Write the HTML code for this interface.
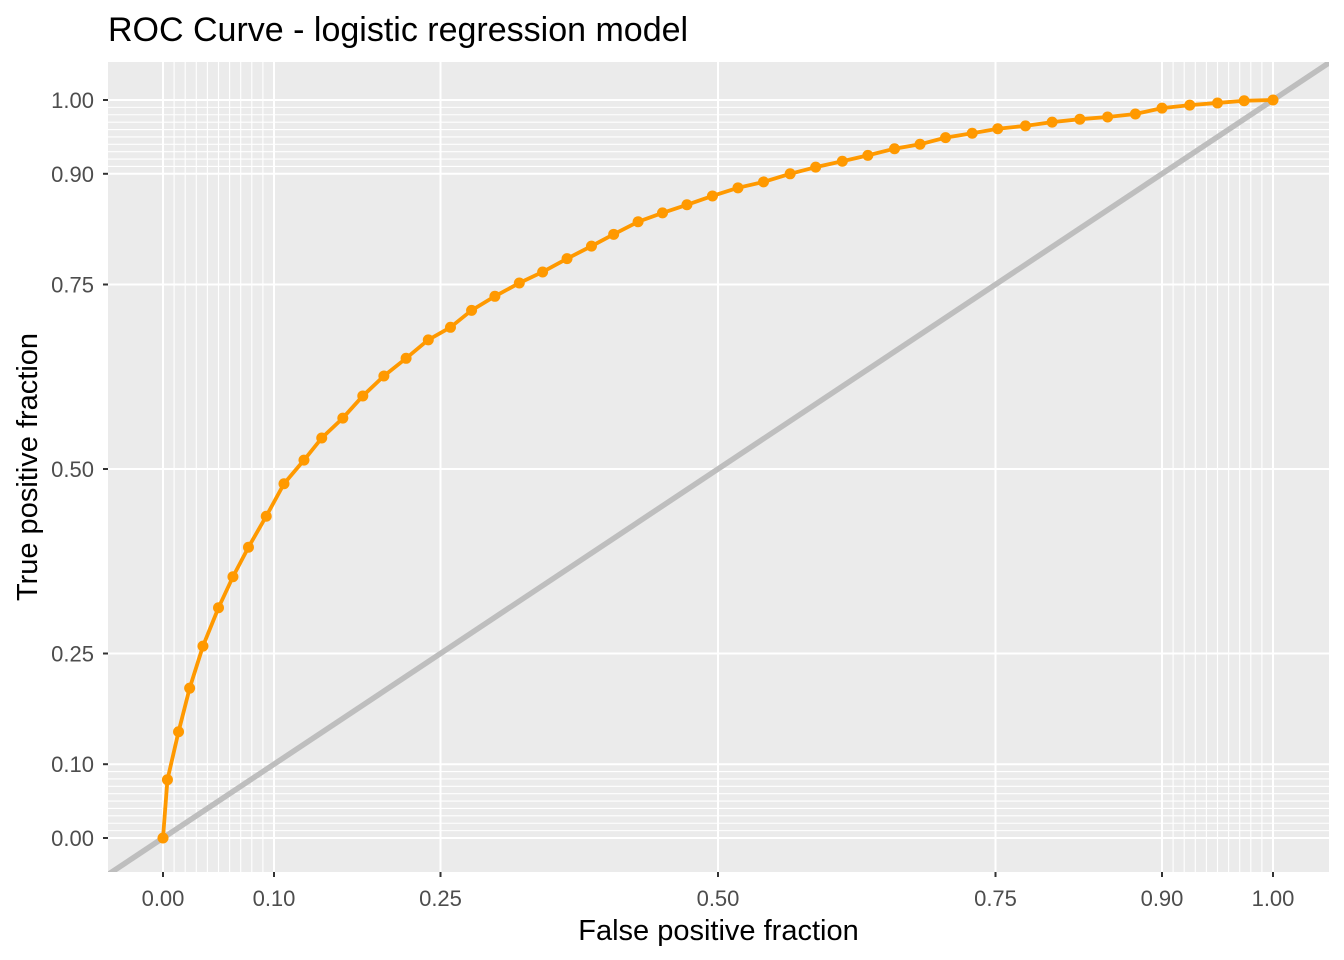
<!DOCTYPE html>
<html><head><meta charset="utf-8"><style>
body{margin:0;background:#fff}
svg{display:block;font-family:"Liberation Sans",Arial,sans-serif}
</style></head><body>
<svg id="chart" width="1344" height="960"></svg>
<script>
const majorTicks=[0,0.1,0.25,0.5,0.75,0.9,1];
const tickLabels=["0.00","0.10","0.25","0.50","0.75","0.90","1.00"];
const minorTicks=[0.01,0.02,0.03,0.04,0.05,0.06,0.07,0.08,0.09,0.91,0.92,0.93,0.94,0.95,0.96,0.97,0.98,0.99];
const fpf=[0,0.004,0.014,0.024,0.036,0.05,0.063,0.077,0.093,0.109,0.127,0.143,0.162,0.18,0.199,0.219,0.239,0.259,0.278,0.299,0.321,0.342,0.364,0.386,0.406,0.428,0.45,0.472,0.495,0.518,0.541,0.565,0.588,0.612,0.635,0.659,0.682,0.705,0.729,0.752,0.777,0.801,0.826,0.851,0.876,0.9,0.925,0.95,0.974,1];
const tpf=[0,0.079,0.144,0.203,0.26,0.312,0.354,0.394,0.436,0.48,0.512,0.542,0.569,0.599,0.626,0.65,0.675,0.692,0.715,0.734,0.752,0.767,0.785,0.802,0.818,0.835,0.847,0.858,0.87,0.881,0.889,0.9,0.909,0.917,0.925,0.934,0.94,0.949,0.955,0.961,0.965,0.97,0.974,0.977,0.981,0.989,0.993,0.996,0.999,1];
const NS="http://www.w3.org/2000/svg";
const svg=document.getElementById('chart');
const PL=108,PR=1329,PT=62,PB=872;
const sx=v=>163+v*1110, sy=v=>838-v*738;
function el(tag,attrs,parent){const e=document.createElementNS(NS,tag);for(const k in attrs)e.setAttribute(k,attrs[k]);(parent||svg).appendChild(e);return e;}
const defs=el('defs',{});const cp=el('clipPath',{id:'clip'},defs);el('rect',{x:PL,y:PT,width:PR-PL,height:PB-PT},cp);
const panel=el('rect',{x:PL,y:PT,width:PR-PL,height:PB-PT,fill:'#EBEBEB'});


minorTicks.forEach(t=>{
 const a=el('line',{x1:sx(t),x2:sx(t),y1:PT,y2:PB,stroke:'#fff','stroke-width':1.1});
 
 
 const b=el('line',{x1:PL,x2:PR,y1:sy(t),y2:sy(t),stroke:'#fff','stroke-width':1.1});
 
 
});
majorTicks.forEach((t,i)=>{
 const a=el('line',{x1:sx(t),x2:sx(t),y1:PT,y2:PB,stroke:'#fff','stroke-width':2});
 
 
 const b=el('line',{x1:PL,x2:PR,y1:sy(t),y2:sy(t),stroke:'#fff','stroke-width':2});
 
 
 const tx=el('line',{x1:sx(t),x2:sx(t),y1:PB,y2:PB+5,stroke:'#333','stroke-width':2});
 
 
 const ty=el('line',{x1:PL-5,x2:PL,y1:sy(t),y2:sy(t),stroke:'#333','stroke-width':2});
 
 
 const lx=el('text',{x:sx(t),y:PB+34,'text-anchor':'middle','font-size':22,fill:'#4D4D4D'});
 lx.textContent=tickLabels[i];
 
 
 const ly=el('text',{x:PL-14,y:sy(t)+8,'text-anchor':'end','font-size':22,fill:'#4D4D4D'});
 ly.textContent=tickLabels[i];
 
 
});
const g=el('g',{'clip-path':'url(#clip)'});
const diag=el('line',{x1:sx(-0.1),y1:sy(-0.1),x2:sx(1.1),y2:sy(1.1),stroke:'#BEBEBE','stroke-width':5.5},g);


const pts=fpf.map((x,i)=>sx(x)+','+sy(tpf[i])).join(' ');
const curve=el('polyline',{points:pts,fill:'none',stroke:'#FF9900','stroke-width':3.8,'stroke-linejoin':'round'},g);


fpf.forEach((x,i)=>{
 const c=el('circle',{cx:sx(x),cy:sy(tpf[i]),r:5.5,fill:'#FF9900'},g);
 
 
});
const title=el('text',{x:108,y:41,'font-size':34,fill:'#000'});
title.textContent='ROC Curve - logistic regression model';


const xt=el('text',{x:(PL+PR)/2,y:940,'text-anchor':'middle','font-size':29,fill:'#000'});
xt.textContent='False positive fraction';


const yt=el('text',{x:0,y:0,'text-anchor':'middle','font-size':29,fill:'#000',transform:'translate(37,'+((PT+PB)/2)+') rotate(-90)'});
yt.textContent='True positive fraction';


</script>
</body></html>
